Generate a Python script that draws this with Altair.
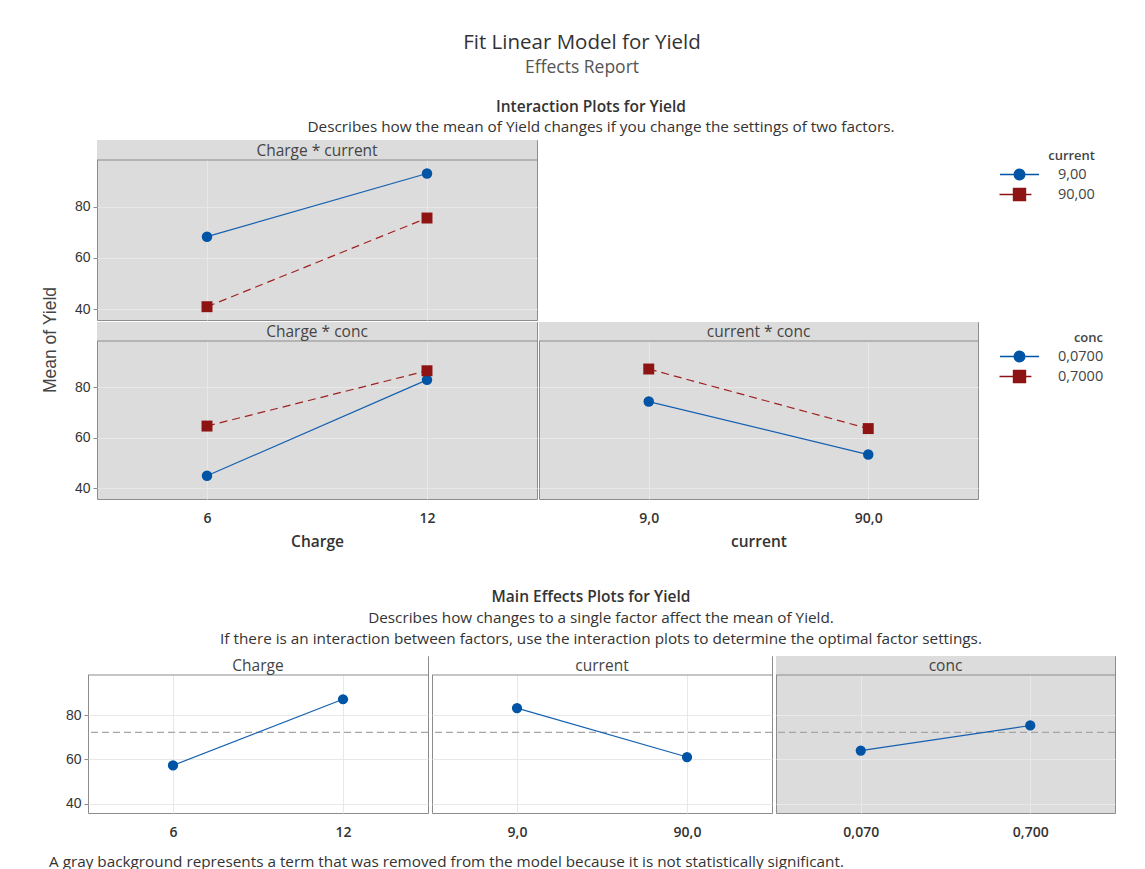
import altair as alt
import pandas as pd

# ---------------- data ----------------
charge_levels = ["6", "12"]
current_levels = ["9,0", "90,0"]
conc_levels = ["0,070", "0,700"]
current_series = ["9,00", "90,00"]
conc_series = ["0,0700", "0,7000"]

# Interaction: Charge * current
cc_current_9 = [68.3, 93.0]
cc_current_90 = [40.9, 75.6]
# Interaction: Charge * conc
cconc_conc_007 = [44.9, 82.9]
cconc_conc_07 = [64.6, 86.5]
# Interaction: current * conc
curconc_conc_007 = [74.3, 53.3]
curconc_conc_07 = [87.2, 63.6]

# Main effects
main_charge = [57.3, 87.3]
main_current = [83.3, 61.1]
main_conc = [64.0, 75.4]
overall_mean = [72.3]

y_ticks = [40, 60, 80]
y_lo, y_hi = 35.7, 98.3

# ---------------- style ----------------
FONT = "Open Sans"
NUMFONT = "Liberation Sans"
BLUE = "#0054A6"
RED = "#8E1414"
GRAY_BG = "#DCDCDC"
BORDER = "#8C8C8C"
GRID = "#E8E8E8"
TXT = "#333333"


def y_domain(H, hdr):
    # extend the domain upward so the header strip sits above the data area
    per_px = (y_hi - y_lo) / (H - hdr)
    return [y_lo, y_hi + hdr * per_px]


def inter_df(levels, series, s1, s2):
    rows = []
    for lv, v in zip(levels, s1):
        rows.append({"level": lv, "series": series[0], "yield": v})
    for lv, v in zip(levels, s2):
        rows.append({"level": lv, "series": series[1], "yield": v})
    return pd.DataFrame(rows)


def header_layers(title, W, hdr, fill):
    hd = alt.Data(values=[{"t": title}])
    rect = alt.Chart(hd).mark_rect(fill=fill).encode(
        x=alt.value(0), x2=alt.value(W), y=alt.value(0), y2=alt.value(hdr))
    line = alt.Chart(hd).mark_rule(color=BORDER, strokeWidth=1).encode(
        x=alt.value(0), x2=alt.value(W), y=alt.value(hdr))
    txt = alt.Chart(hd).mark_text(font=FONT, fontSize=15.5, color="#444444",
                                  baseline="middle").encode(
        x=alt.value(W / 2), y=alt.value(hdr / 2 + 0.5), text="t:N")
    return [rect, line, txt]


def x_axis(show, title=None):
    if show:
        kw = dict(labelAngle=0, ticks=False, domain=False, grid=True,
                  gridColor=GRID, labelFont=FONT, labelFontSize=14,
                  labelFontWeight=600, labelColor=TXT, labelPadding=12)
        if title:
            return alt.Axis(title=title, titleFont=FONT, titleFontSize=15.5,
                            titleFontWeight=600, titleColor=TXT,
                            titlePadding=9, **kw)
        return alt.Axis(title=None, **kw)
    return alt.Axis(title=None, labels=False, ticks=False, domain=False,
                    grid=True, gridColor=GRID)


def y_axis(show):
    if show:
        return alt.Axis(values=y_ticks, title=None, labelFont=NUMFONT,
                        labelFontSize=14, labelColor=TXT, tickSize=4,
                        tickColor=BORDER, domain=False, grid=True,
                        gridColor=GRID, labelPadding=3, minExtent=30,
                        maxExtent=30)
    return alt.Axis(values=y_ticks, title=None, labels=False, ticks=False,
                    domain=False, grid=True, gridColor=GRID)


PATH_CIRCLE = ("M-2.3,0H2.3M-0.62,0A0.62,0.62,0,1,0,0.62,0"
               "A0.62,0.62,0,1,0,-0.62,0Z")
PATH_SQUARE = "M-2.35,0H1.4M-0.7,-0.7H0.7V0.7H-0.7Z"


def inter_panel(df, levels, series, title, W, H, hdr, show_y, show_x,
                x_title=None, legend=None):
    base = alt.Chart(df)
    x = alt.X("level:O", sort=levels, scale=alt.Scale(domain=levels),
              axis=x_axis(show_x, x_title))
    y = alt.Y("yield:Q", scale=alt.Scale(domain=y_domain(H, hdr),
                                         nice=False, zero=False),
              axis=y_axis(show_y))
    s1 = base.transform_filter(alt.datum.series == series[0])
    s2 = base.transform_filter(alt.datum.series == series[1])
    l1 = s1.mark_line(strokeWidth=1.2, color="#1560B0").encode(x=x, y=y)
    l2 = s2.mark_line(strokeWidth=1.2, color="#A02020",
                      strokeDash=[8, 5]).encode(x=x, y=y)
    p1 = s1.mark_point(filled=True, shape="circle", size=110, color=BLUE,
                       opacity=1).encode(x=x, y=y)
    p2 = s2.mark_point(filled=True, shape="square", size=120, color=RED,
                       opacity=1).encode(x=x, y=y)
    layers = header_layers(title, W, hdr, GRAY_BG) + [l1, l2, p1, p2]
    if legend is not None:
        lg_title, lx, ly = legend

        def L():
            return alt.Legend(title=lg_title, orient="none", legendX=lx,
                              legendY=ly, titleFont=FONT, titleFontSize=13,
                              titleFontWeight=600, titleColor="#444444",
                              titleAnchor="end", labelFont=FONT,
                              labelFontSize=14.5, labelColor="#444444",
                              symbolSize=289, symbolStrokeWidth=1.5,
                              symbolOpacity=1, labelOffset=29, rowPadding=2,
                              titlePadding=2)
        lg = base.mark_point(opacity=0).encode(
            x=x, y=y,
            fill=alt.Fill("series:N", scale=alt.Scale(domain=series,
                                                      range=[BLUE, RED]),
                          legend=L()),
            stroke=alt.Stroke("series:N", scale=alt.Scale(domain=series,
                                                          range=[BLUE, RED]),
                              legend=L()),
            shape=alt.Shape("series:N",
                            scale=alt.Scale(domain=series,
                                            range=[PATH_CIRCLE, PATH_SQUARE]),
                            legend=L()))
        layers.append(lg)
    return alt.layer(*layers).properties(
        width=W, height=H,
        view=alt.ViewBackground(fill=GRAY_BG, stroke=BORDER, strokeWidth=1))


def main_panel(levels, vals, title, W, H, hdr, gray, show_y):
    df = pd.DataFrame({"level": levels, "yield": vals})
    base = alt.Chart(df)
    x = alt.X("level:O", sort=levels, scale=alt.Scale(domain=levels),
              axis=x_axis(True))
    yscale = alt.Scale(domain=y_domain(H, hdr), nice=False, zero=False)
    y = alt.Y("yield:Q", scale=yscale, axis=y_axis(show_y))
    line = base.mark_line(strokeWidth=1.2, color="#1560B0").encode(x=x, y=y)
    pts = base.mark_point(filled=True, shape="circle", size=105, color=BLUE,
                          opacity=1).encode(x=x, y=y)
    mean = alt.Chart(pd.DataFrame({"m": overall_mean})).mark_rule(
        color="#A5A5A5", strokeDash=[7, 4], strokeWidth=1.2
    ).encode(y=alt.Y("m:Q", scale=yscale))
    fill = GRAY_BG if gray else "#FFFFFF"
    layers = [mean] + header_layers(title, W, hdr, fill) + [line, pts]
    return alt.layer(*layers).properties(
        width=W, height=H,
        view=alt.ViewBackground(fill=fill, stroke=BORDER, strokeWidth=1))


def text_layer(t, x, y, size, weight="normal", color=TXT, align="center",
               font=FONT, angle=0):
    return alt.Chart(alt.Data(values=[{"t": t}])).mark_text(
        font=font, fontSize=size, fontWeight=weight, color=color,
        align=align, baseline="middle", angle=angle
    ).encode(x=alt.value(x), y=alt.value(y), text="t:N")


# ---------------- header ----------------
head = alt.layer(
    text_layer("Fit Linear Model for Yield", 573, 34, 20.5, color="#333333"),
    text_layer("Effects Report", 573, 59, 17.5, color="#555555"),
    text_layer("Interaction Plots for Yield", 582, 98, 15.5, weight=600),
    text_layer("Describes how the mean of Yield changes if you change the "
               "settings of two factors.", 592, 118, 15.3),
).properties(width=1125, height=129)

# ---------------- interaction block ----------------
df_cc = inter_df(charge_levels, current_series, cc_current_9, cc_current_90)
df_cconc = inter_df(charge_levels, conc_series, cconc_conc_007, cconc_conc_07)
df_curconc = inter_df(current_levels, conc_series, curconc_conc_007,
                      curconc_conc_07)

p_cc = inter_panel(df_cc, charge_levels, current_series, "Charge * current",
                   440, 180, 20, True, False,
                   legend=("current", 913, 10))
p_cconc = inter_panel(df_cconc, charge_levels, conc_series, "Charge * conc",
                      440, 177, 19, True, True, x_title="Charge")
p_curconc = inter_panel(df_curconc, current_levels, conc_series,
                        "current * conc", 439, 177, 19, False, True,
                        x_title="current", legend=("conc", 913, 10))

row2 = alt.hconcat(p_cconc, p_curconc, spacing=0)
grid = alt.vconcat(p_cc, row2, spacing=0).resolve_scale(
    fill="independent", stroke="independent", shape="independent")

ylab = text_layer("Mean of Yield", 42, 200, 17.5, color="#444444",
                  font=NUMFONT, angle=270).properties(width=56, height=357)
inter_block = alt.hconcat(ylab, grid, spacing=0)

# ---------------- main effects block ----------------
mid = alt.layer(
    text_layer("Main Effects Plots for Yield", 582, 46, 15.5, weight=600),
    text_layer("Describes how changes to a single factor affect the mean of "
               "Yield.", 592, 67, 15.3),
    text_layer("If there is an interaction between factors, use the "
               "interaction plots to determine the optimal factor settings.",
               592, 88, 15.3),
).properties(width=1125, height=102)

m1 = main_panel(charge_levels, main_charge, "Charge", 340, 157, 19, False,
                True)
m2 = main_panel(current_levels, main_current, "current", 340, 157, 19, False,
                False)
m3 = main_panel(conc_levels, main_conc, "conc", 339, 157, 19, True, False)
main_grid = alt.hconcat(m1, m2, m3, spacing=0)
spacer = text_layer("", 0, 0, 1).properties(width=47, height=157)
main_block = alt.hconcat(spacer, main_grid, spacing=0)

foot = text_layer("A gray background represents a term that was removed "
                  "from the model because it is not statistically "
                  "significant.", 40, 21, 15.3, align="left").properties(
    width=1125, height=30)

chart = alt.vconcat(head, inter_block, mid, main_block, foot, spacing=0
                    ).properties(padding=0, background="white"
                                 ).configure_view(stroke="transparent")

chart.save("out.html", embed_options={"renderer": "svg", "actions": False})
